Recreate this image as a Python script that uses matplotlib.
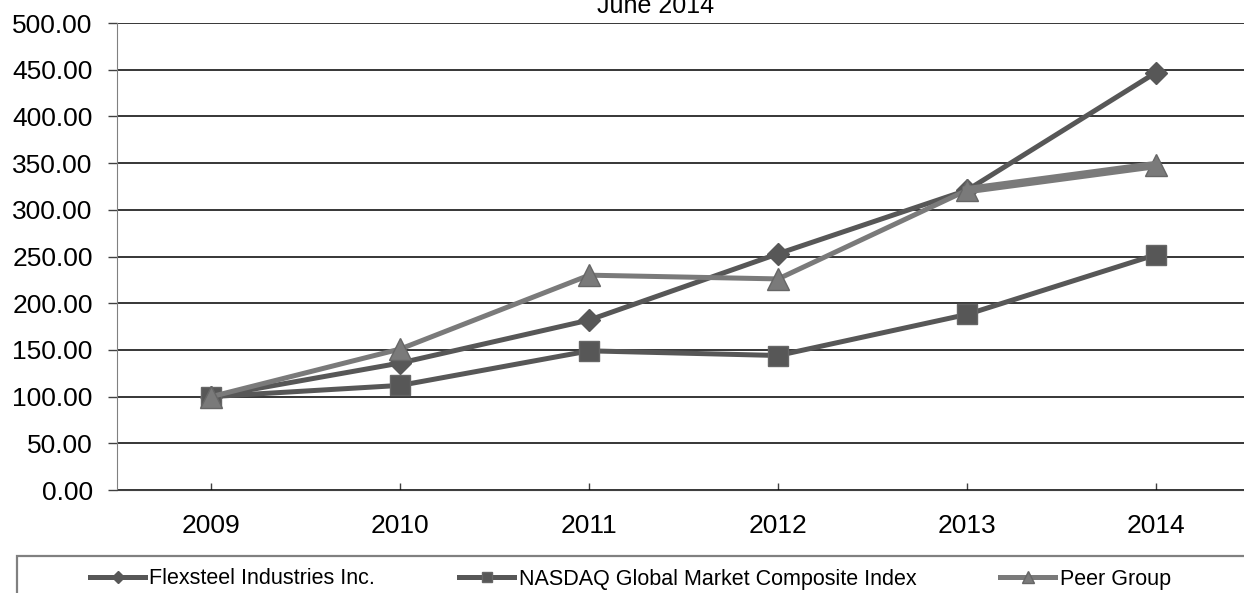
import matplotlib.pyplot as plt
from matplotlib.patches import Rectangle

plt.rcParams['font.family'] = ['Liberation Sans', 'DejaVu Sans']

years = ['2009', '2010', '2011', '2012', '2013', '2014']
flexsteel = [100, 136, 182, 253, 321, 447]
nasdaq = [100, 112, 149, 144, 188, 252]
peer = [100, 151, 230, 226, 321, 348]
yticks = [0, 50, 100, 150, 200, 250, 300, 350, 400, 450, 500]

W, H = 1244, 593
fig = plt.figure(figsize=(W / 100, H / 100), dpi=100)
ax = fig.add_axes([117 / W, 1 - 490 / H, (1250.5 - 117) / W, (490 - 23) / H])

x = list(range(len(years)))
dark = '#575757'
light = '#7a7a7a'

ax.plot(x, flexsteel, color=dark, lw=3.6, marker='D', ms=11.5, mfc=dark, mec=dark,
        label='Flexsteel Industries Inc.', zorder=3)
ax.plot(x, nasdaq, color=dark, lw=3.6, marker='s', ms=14, mfc=dark, mec='#666666',
        label='NASDAQ Global Market Composite Index', zorder=3)
ax.plot(x, peer, color=light, lw=3.6, marker='^', ms=16, mfc=light, mec='#666666',
        label='Peer Group', zorder=4)
# last segment of peer group drawn heavier, as in the original
ax.plot(x[4:], peer[4:], color=light, lw=6, zorder=4)

ax.set_xlim(-0.5, 5.5)
ax.set_ylim(0, 500)
ax.set_yticks(yticks)
ax.set_yticklabels([f'{v:.2f}' for v in yticks])
ax.set_xticks(x)
ax.set_xticklabels(years)
ax.yaxis.grid(True, color='black', lw=1.1)
ax.set_axisbelow(True)

for s in ['top', 'right']:
    ax.spines[s].set_visible(False)
ax.spines['left'].set_color('#808080')
ax.spines['bottom'].set_color('#404040')
ax.tick_params(axis='y', direction='out', length=6.5, width=1, color='#404040',
               labelsize=19, pad=11)
ax.tick_params(axis='x', direction='in', length=5, width=1, color='#404040',
               labelsize=19, pad=17)

fig.text(656 / W, 1 - 13 / H, 'June 2014', ha='center', va='baseline', fontsize=18)

# legend box (clipped by the figure edges)
fig.patches.append(Rectangle((17 / W, -0.1), 1.2, (1 - 556 / H) + 0.1,
                             transform=fig.transFigure, fill=False,
                             edgecolor='#808080', lw=1.6))
handles, labels = ax.get_legend_handles_labels()
leg = fig.legend(handles, labels, ncol=3, frameon=False, fontsize=15.5,
                 loc='center left', bbox_to_anchor=(90 / W, 1 - 579 / H),
                 borderpad=0, handlelength=2.56, handletextpad=0.2,
                 columnspacing=3.9, markerscale=0.55, borderaxespad=0)

fig.savefig('out.png', dpi=100)
